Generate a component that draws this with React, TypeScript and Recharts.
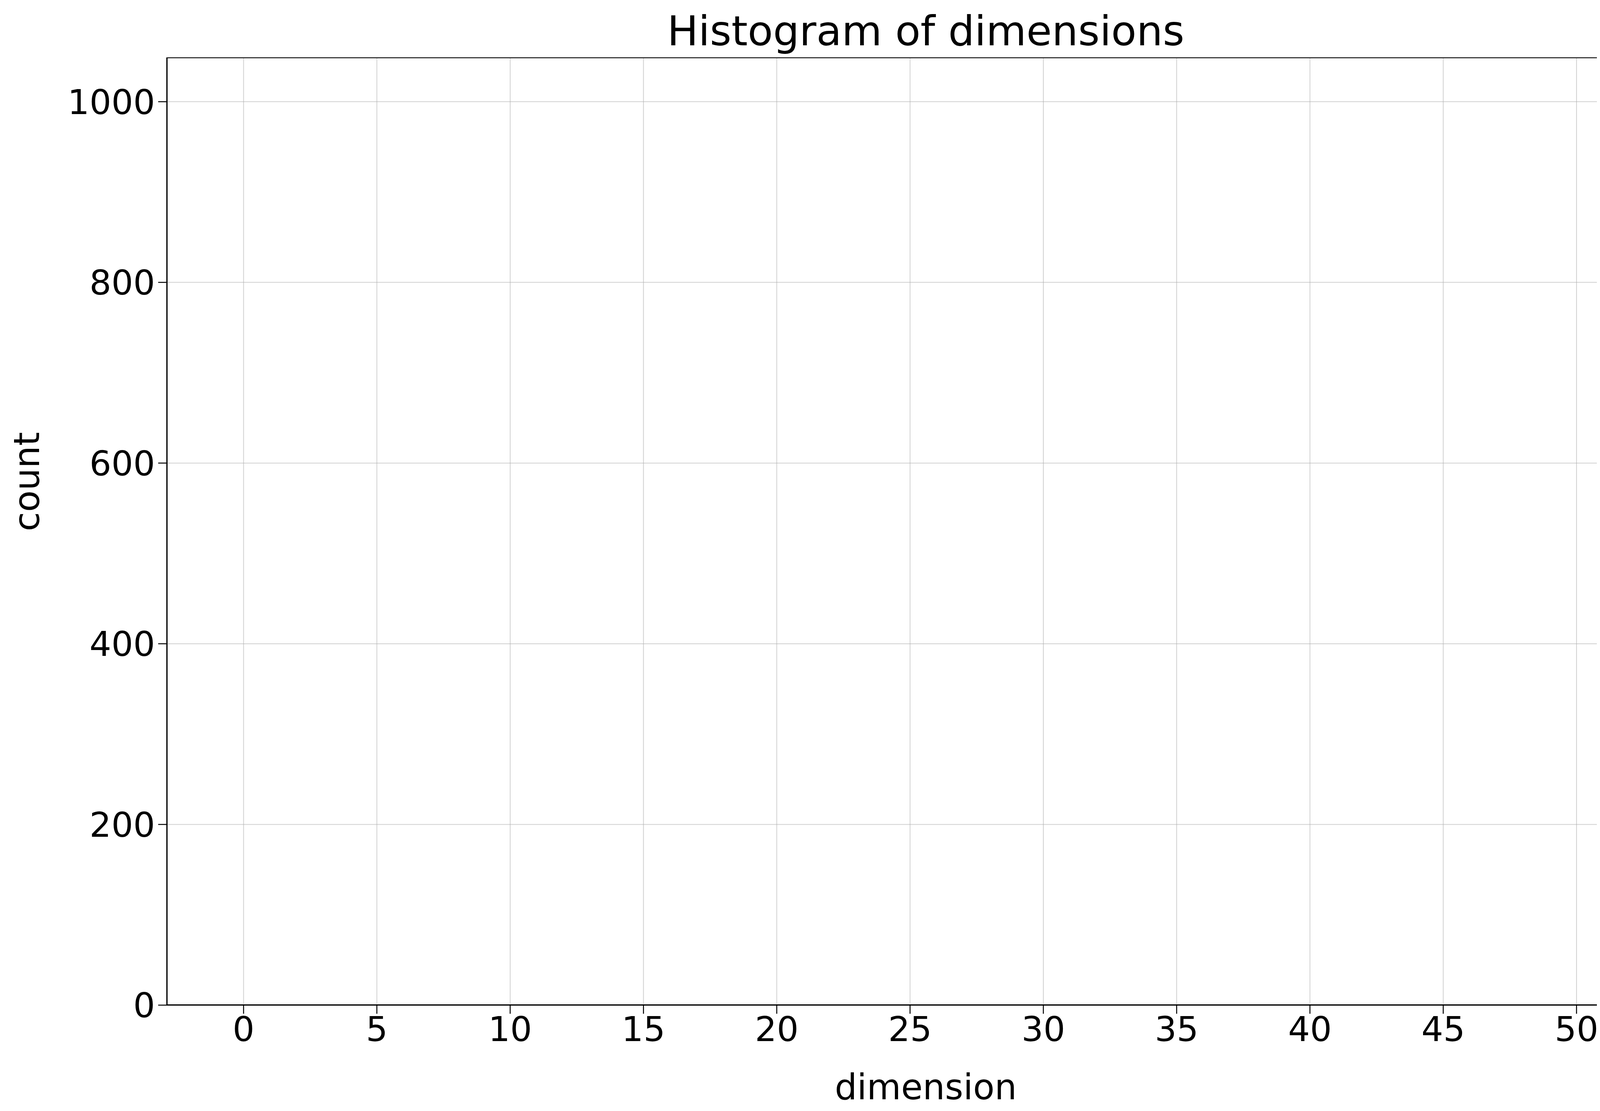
import React from 'react'
import { ComposedChart, Bar, XAxis, YAxis, CartesianGrid } from 'recharts'

// histogram: every sample landed in the single bin around 51
const binCenters = [51.2]
const binCounts = [998]
const xTicks = [0, 5, 10, 15, 20, 25, 30, 35, 40, 45, 50]
const yTicks = [0, 200, 400, 600, 800, 1000]

const data = binCenters.map((x, i) => ({ x, count: binCounts[i] }))

const font = 'DejaVu Sans, sans-serif'
const tickStyle = { fontSize: 88, fill: '#000', fontFamily: font }

const M = { top: 139, right: 31, left: 419, bottom: 271 }
const W = 4336
const H = 2836

export default function App() {
  return (
    <div style={{ position: 'relative', width: W, height: H, fontFamily: font, background: '#fff' }}>
      <div style={{ position: 'absolute', top: 10, left: M.left, width: W - M.left - M.right, textAlign: 'center', fontSize: 106 }}>
        Histogram of dimensions
      </div>
      <ComposedChart width={W} height={H} data={data}
        margin={{ top: M.top, right: M.right, left: 0, bottom: 0 }}>
        <CartesianGrid stroke="#b0b0b0" strokeOpacity={0.6} strokeWidth={2} />
        <XAxis dataKey="x" type="number" domain={[-2.88, 54.06]} ticks={xTicks}
          allowDataOverflow height={M.bottom} tick={tickStyle} tickSize={22} tickMargin={8}
          stroke="#000" strokeWidth={2.5}
          label={{ value: 'dimension', position: 'insideBottom', offset: 30, fontSize: 90, fill: '#000', fontFamily: font }} />
        <YAxis type="number" domain={[0, 1049]} ticks={yTicks} allowDataOverflow width={M.left}
          tick={tickStyle} tickSize={22} tickMargin={8} stroke="#000" strokeWidth={2.5}
          label={{ value: 'count', angle: -90, position: 'insideLeft', offset: 60, fontSize: 90, fill: '#000', fontFamily: font, dy: 0 }} />
        <Bar dataKey="count" fill="#1f77b4" barSize={36} isAnimationActive={false} />
      </ComposedChart>
      <div style={{
        position: 'absolute', left: M.left, top: M.top, width: W - M.left - M.right, height: H - M.top - M.bottom,
        border: '2.5px solid #000', boxSizing: 'border-box', pointerEvents: 'none',
      }} />
    </div>
  )
}
